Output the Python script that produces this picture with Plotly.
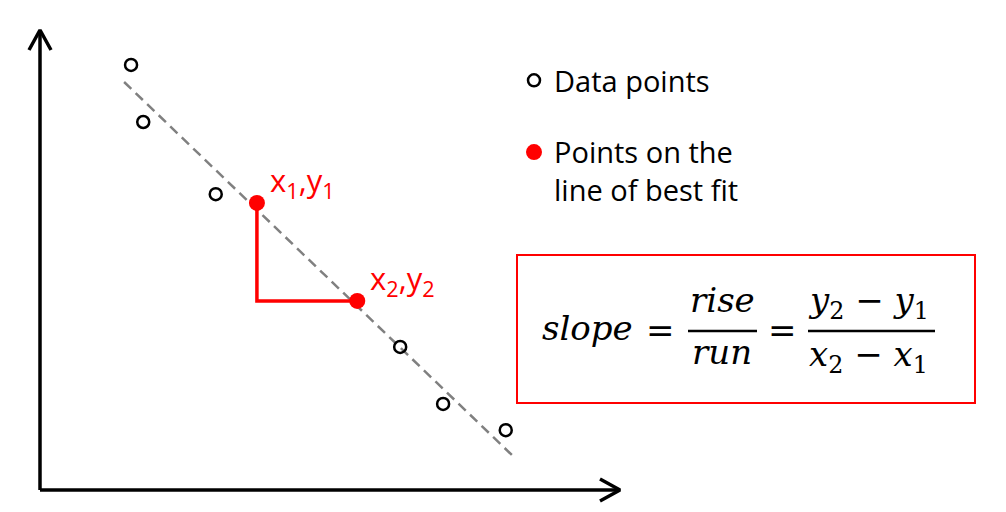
import plotly.graph_objects as go

# --- data (chart units: the drawn axes run 0..10 on both sides) ---
data_x = [1.57, 1.78, 3.03, 6.21, 6.95, 8.03]
data_y = [9.24, 8.00, 6.43, 3.11, 1.87, 1.30]

fit_x = [1.45, 8.17]
fit_y = [8.87, 0.72]

pts_x = [3.74, 5.47]
pts_y = [6.24, 4.11]
pt_labels = ["x<sub>1</sub>,y<sub>1</sub>", "x<sub>2</sub>,y<sub>2</sub>"]

legend_names = ["Data points", "Points on the<br>line of best fit"]

axis_len = 10

W, H = 1006, 512
OFF = 8  # page body margin pushes the plot 8px right/down
# pixels per unit, origin of the drawn axes in pixels
sx, sy = 58, 46
ox, oy = 40 - OFF, 490 - OFF

RED = "#ff0000"


def paper(xp, yp):
    # reference pixel position -> paper coords
    return (xp - OFF) / W, 1 - (yp - OFF) / H


fig = go.Figure()

# axes with open arrow heads
ax_x = [0, 0, None, 0, axis_len]
ax_y = [axis_len, 0, None, 0, 0]
fig.add_trace(go.Scatter(x=ax_x, y=ax_y, mode="lines",
                         line=dict(color="black", width=3.5),
                         showlegend=False, hoverinfo="skip"))
back, side = 20, 11
head_x = [-side / sx, 0, side / sx, None,
          axis_len - back / sx, axis_len, axis_len - back / sx]
head_y = [axis_len - back / sy, axis_len, axis_len - back / sy, None,
          side / sy, 0, -side / sy]
fig.add_trace(go.Scatter(x=head_x, y=head_y, mode="lines",
                         line=dict(color="black", width=3.5),
                         showlegend=False, hoverinfo="skip"))

# line of best fit
fig.add_trace(go.Scatter(x=fit_x, y=fit_y, mode="lines",
                         line=dict(color="#808080", width=2.5, dash="10px,6px"),
                         showlegend=False, hoverinfo="skip"))

# rise / run triangle
fig.add_trace(go.Scatter(x=[pts_x[0], pts_x[0], pts_x[1]],
                         y=[pts_y[0], pts_y[1], pts_y[1]],
                         mode="lines", line=dict(color=RED, width=3.5),
                         showlegend=False, hoverinfo="skip"))

fig.add_trace(go.Scatter(x=data_x, y=data_y, mode="markers", name=legend_names[0],
                         legendgroup="a",
                         marker=dict(symbol="circle-open", size=12, color="black",
                                     line=dict(width=2.5))))
fig.add_trace(go.Scatter(x=pts_x, y=pts_y, mode="markers", name=legend_names[1],
                         legendgroup="b",
                         marker=dict(symbol="circle", size=16, color=RED)))

for x, y, t in zip(pts_x, pts_y, pt_labels):
    fig.add_annotation(x=x, y=y, text=t, showarrow=False, xanchor="left",
                       yanchor="middle", xshift=11, yshift=21,
                       font=dict(family="Open Sans", size=31, color=RED))

# slope formula box
bx0, by0 = paper(517, 403)
bx1, by1 = paper(975, 255)
fig.add_shape(type="rect", xref="paper", yref="paper", x0=bx0, y0=by0, x1=bx1, y1=by1,
              line=dict(color=RED, width=2))

serif = "DejaVu Serif"
formula = [
    (587, 328, "<i>slope</i>"),
    (660, 330, "="),
    (722, 300, "<i>rise</i>"),
    (722, 352, "<i>run</i>"),
    (782, 330, "="),
    (868, 302, "<i>y</i><sub>2</sub> − <i>y</i><sub>1</sub>"),
    (868, 356, "<i>x</i><sub>2</sub> − <i>x</i><sub>1</sub>"),
]
for xp, yp, t in formula:
    px_, py_ = paper(xp, yp)
    fig.add_annotation(xref="paper", yref="paper", x=px_, y=py_, text=t,
                       showarrow=False, xanchor="center", yanchor="middle",
                       font=dict(family=serif, size=34, color="black"))

for x0, x1 in [(688, 757), (808, 935)]:
    a0, yb = paper(x0, 331)
    a1, _ = paper(x1, 331)
    fig.add_shape(type="line", xref="paper", yref="paper", x0=a0, x1=a1, y0=yb, y1=yb,
                  line=dict(color="black", width=2.5))

lx, ly = paper(514, 55)
fig.update_layout(
    width=W, height=H,
    margin=dict(l=0, r=0, t=0, b=0),
    paper_bgcolor="white", plot_bgcolor="white",
    showlegend=True,
    legend=dict(x=lx, y=ly, xanchor="left", yanchor="top", valign="top",
                font=dict(family="Open Sans", size=29, color="black"),
                tracegroupgap=31, bgcolor="rgba(0,0,0,0)", itemsizing="trace"),
    xaxis=dict(range=[-ox / sx, (W - ox) / sx], visible=False, fixedrange=True),
    yaxis=dict(range=[(oy - H) / sy, oy / sy], visible=False, fixedrange=True),
)

fig.write_html("out.html")
